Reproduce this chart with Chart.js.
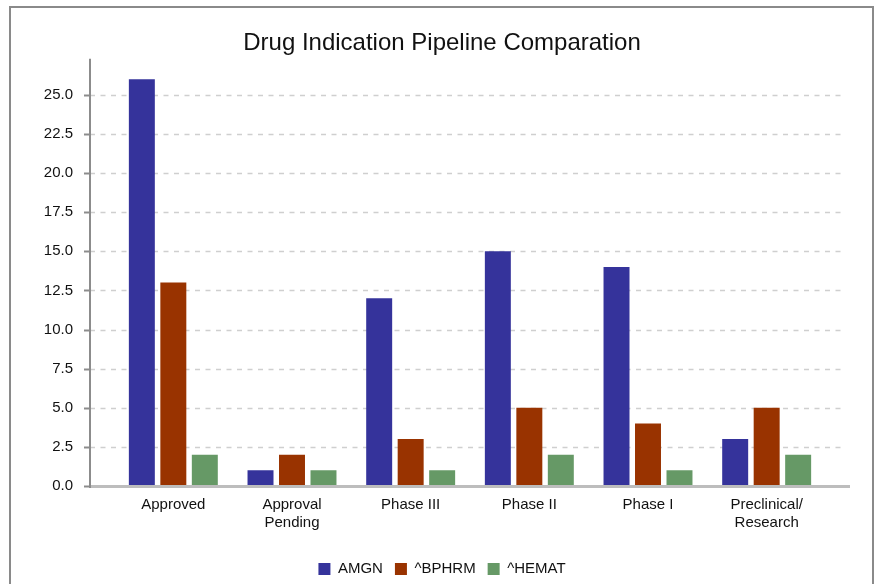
<!DOCTYPE html>
<html>
<head>
<meta charset="utf-8">
<title>Drug Indication Pipeline Comparation</title>
<script src="https://cdn.jsdelivr.net/npm/chart.js@4.4.1/dist/chart.umd.min.js"></script>
<style>
    html, body { margin: 0; padding: 0; background: #ffffff; }
    #frame {
        position: absolute; left: 9px; top: 6px; width: 865px; height: 600px;
        border: 2px solid #8a8a8a; box-sizing: border-box;
    }
    #wrap { position: absolute; left: 0; top: 0; width: 875px; height: 584px; }
</style>
</head>
<body>
<div id="frame"></div>
<div id="wrap"><canvas id="pipelineChart"></canvas></div>
<script>
// Chart data
const categories = ['Approved', ['Approval', 'Pending'], 'Phase III', 'Phase II', 'Phase I', ['Preclinical/', 'Research']];
const amgnValues = [26, 1, 12, 15, 14, 3];
const bphrmValues = [13, 2, 3, 5, 4, 5];
const hematValues = [2, 1, 1, 2, 1, 2];
const yTicks = [0, 2.5, 5, 7.5, 10, 12.5, 15, 17.5, 20, 22.5, 25];
const yMax = 27.3;

const FONT = 'Liberation Sans, Arial, Helvetica, sans-serif';

// Axis lines, tick marks and dashed grid drawn around the plot area
const axisPlugin = {
    id: 'axisPlugin',
    beforeDatasetsDraw(chart) {
        const { ctx, chartArea } = chart;
        const y = chart.scales.y;
        const left = chartArea.left - 24;
        ctx.save();
        ctx.strokeStyle = '#cfcfcf';
        ctx.lineWidth = 1.5;
        ctx.setLineDash([5, 5.5]);
        yTicks.forEach(v => {
            if (v === 0) return;
            const py = Math.round(y.getPixelForValue(v)) + 0.5;
            ctx.beginPath();
            ctx.moveTo(left, py);
            ctx.lineTo(chartArea.right + 17, py);
            ctx.stroke();
        });
        ctx.restore();
    },
    afterDatasetsDraw(chart) {
        const { ctx, chartArea } = chart;
        const y = chart.scales.y;
        const left = chartArea.left - 24;
        ctx.save();
        // x axis
        ctx.strokeStyle = '#bdbdbd';
        ctx.lineWidth = 3;
        ctx.beginPath();
        ctx.moveTo(left, chartArea.bottom + 0.5);
        ctx.lineTo(chartArea.right + 24, chartArea.bottom + 0.5);
        ctx.stroke();
        // y axis
        ctx.strokeStyle = '#8c8c8c';
        ctx.lineWidth = 2;
        ctx.beginPath();
        ctx.moveTo(left, chartArea.top);
        ctx.lineTo(left, chartArea.bottom + 2);
        ctx.stroke();
        // tick marks
        yTicks.forEach(v => {
            const py = Math.round(y.getPixelForValue(v)) + 0.5;
            ctx.beginPath();
            ctx.moveTo(left - 6, py);
            ctx.lineTo(left, py);
            ctx.stroke();
        });
        ctx.restore();
    }
};

const ctx = document.getElementById('pipelineChart').getContext('2d');
new Chart(ctx, {
    type: 'bar',
    data: {
        labels: categories,
        datasets: [
            { label: 'AMGN', data: amgnValues, backgroundColor: '#35339b' },
            { label: '^BPHRM', data: bphrmValues, backgroundColor: '#993300' },
            { label: '^HEMAT', data: hematValues, backgroundColor: '#669966' }
        ]
    },
    options: {
        responsive: true,
        maintainAspectRatio: false,
        animation: false,
        categoryPercentage: 0.796,
        barPercentage: 0.825,
        layout: {
            padding: { left: 40, right: 31, top: 0, bottom: -2.5 }
        },
        plugins: {
            title: {
                display: true,
                text: 'Drug Indication Pipeline Comparation',
                color: '#111111',
                font: { family: FONT, size: 24, weight: 'normal' },
                padding: { top: 29, bottom: 1 }
            },
            legend: {
                position: 'bottom',
                labels: {
                    color: '#111111',
                    font: { family: FONT, size: 15 },
                    boxWidth: 12,
                    boxHeight: 12,
                    padding: 12
                }
            },
            tooltip: { enabled: false }
        },
        scales: {
            x: {
                grid: { display: false, drawTicks: false },
                border: { display: false },
                ticks: {
                    color: '#111111',
                    font: { family: FONT, size: 15, lineHeight: 1.2 },
                    padding: 10,
                    maxRotation: 0
                },
                afterFit: scale => { scale.height = 63.5; }
            },
            y: {
                min: 0,
                max: yMax,
                grid: { display: false, drawTicks: false },
                border: { display: false },
                ticks: {
                    stepSize: 2.5,
                    color: '#111111',
                    font: { family: FONT, size: 15 },
                    padding: 41,
                    callback: v => Number(v).toFixed(1)
                },
                afterBuildTicks: scale => {
                    scale.ticks = yTicks.map(v => ({ value: v }));
                },
                afterFit: scale => { scale.width = 74; }
            },
            // empty spacer on the right so the title and legend stay centred
            yRight: {
                type: 'linear',
                position: 'right',
                grid: { display: false, drawTicks: false },
                border: { display: false },
                ticks: { display: false },
                afterFit: scale => { scale.width = 18; }
            }
        }
    },
    plugins: [axisPlugin]
});
</script>
</body>
</html>
